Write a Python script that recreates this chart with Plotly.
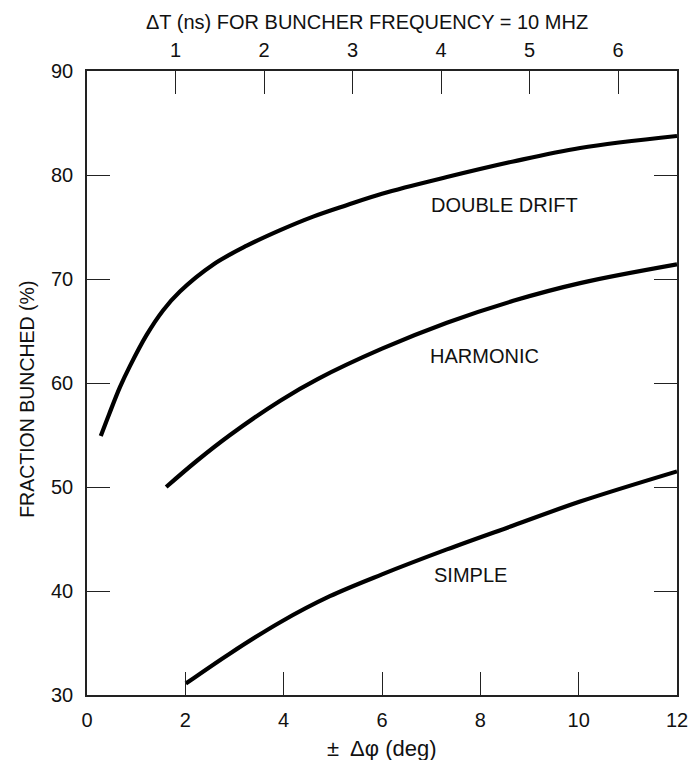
import plotly.graph_objects as go

# Data
x_double = [0.28, 0.45, 0.67, 0.87, 1.21, 1.55, 1.89, 2.57, 3.25, 3.93, 4.6, 5.28, 6.0, 7.32, 8.67, 10.03, 12.0]
y_double = [54.9, 57.0, 59.6, 61.6, 64.6, 67.0, 68.8, 71.4, 73.2, 74.7, 76.0, 77.1, 78.2, 79.8, 81.3, 82.6, 83.75]

x_harmonic = [1.61, 2.23, 2.91, 3.93, 4.7, 6.0, 7.32, 8.67, 10.03, 12.0]
y_harmonic = [50.0, 52.5, 55.0, 58.3, 60.4, 63.3, 65.8, 67.9, 69.6, 71.4]

x_simple = [2.01, 2.91, 3.93, 4.94, 6.0, 7.32, 8.67, 10.03, 12.0]
y_simple = [31.1, 34.0, 37.0, 39.5, 41.6, 44.0, 46.3, 48.6, 51.5]

curve_labels = ["DOUBLE DRIFT", "HARMONIC", "SIMPLE"]
label_x = [8.5, 8.09, 7.79]
label_y = [77.1, 62.6, 41.5]

x_ticks = [0, 2, 4, 6, 8, 10, 12]
y_ticks = [30, 40, 50, 60, 70, 80, 90]
dt_ticks = [1, 2, 3, 4, 5, 6]
deg_per_ns = 1.8  # 10 MHz buncher, +/- phase

FONT = "Liberation Sans, Arial, sans-serif"
INK = "#111111"

fig = go.Figure()
for xs, ys in [(x_double, y_double), (x_harmonic, y_harmonic), (x_simple, y_simple)]:
    fig.add_trace(go.Scatter(x=xs, y=ys, mode="lines",
                             line=dict(color="#000000", width=4.2, shape="spline", smoothing=1.0),
                             showlegend=False, hoverinfo="skip"))

# invisible trace to activate the top axis
fig.add_trace(go.Scatter(x=[1], y=[30], xaxis="x2", mode="markers",
                         marker=dict(opacity=0), showlegend=False, hoverinfo="skip"))

for t, lx, ly in zip(curve_labels, label_x, label_y):
    fig.add_annotation(x=lx, y=ly, text=t, showarrow=False,
                       font=dict(family=FONT, size=20, color=INK),
                       xanchor="center", yanchor="middle")

axis_common = dict(showline=True, linecolor="#222222", linewidth=1.5,
                   showgrid=False, zeroline=False, ticks="inside", ticklen=23,
                   tickwidth=1.3, tickcolor="#222222", automargin=False,
                   ticklabeloverflow="allow",
                   tickfont=dict(family=FONT, size=20, color=INK))

fig.update_layout(
    width=688, height=760,
    margin=dict(l=87, r=11, t=71, b=65),
    paper_bgcolor="white", plot_bgcolor="white",
    xaxis=dict(range=[0, 12], tickvals=x_ticks, mirror=True,
               ticklabelstandoff=6, **axis_common),
    yaxis=dict(range=[30, 90], tickvals=y_ticks, mirror="ticks",
               ticklabelstandoff=8, **axis_common),
    xaxis2=dict(range=[0, 12 / deg_per_ns], tickvals=dt_ticks, overlaying="x",
                side="top", anchor="y", ticklabelstandoff=4, **axis_common),
)

fig.add_annotation(xref="paper", yref="paper", x=0.475, y=1 + (71 - 22) / 624,
                   text="ΔT (ns) FOR BUNCHER FREQUENCY = 10 MHZ", showarrow=False,
                   font=dict(family=FONT, size=20, color=INK),
                   xanchor="center", yanchor="middle")
fig.add_annotation(xref="paper", yref="paper", x=0.5, y=-(748 - 695) / 624,
                   text="±\u00a0 Δφ (deg)", showarrow=False,
                   font=dict(family=FONT, size=22, color=INK),
                   xanchor="center", yanchor="middle")
fig.add_annotation(xref="paper", yref="paper", x=-(87 - 27) / 590, y=0.473,
                   text="FRACTION BUNCHED (%)", showarrow=False, textangle=-90,
                   font=dict(family=FONT, size=19.5, color=INK),
                   xanchor="center", yanchor="middle")

fig.write_html("out.html")
